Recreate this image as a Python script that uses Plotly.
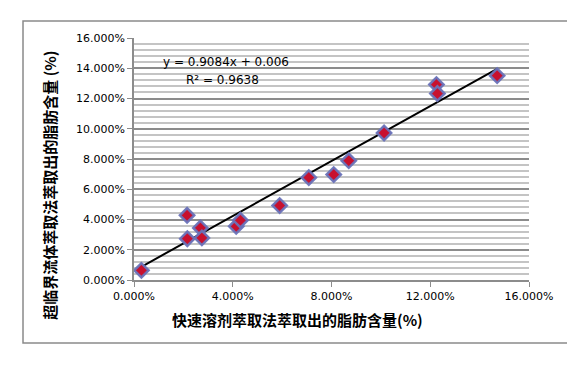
import plotly.graph_objects as go

# Data (fractions)
x_vals = [0.0030, 0.0215, 0.0216, 0.0269, 0.0275, 0.0414, 0.0431, 0.0590,
          0.0708, 0.0809, 0.0870, 0.1013, 0.1225, 0.1229, 0.1471]
y_vals = [0.0064, 0.0428, 0.0273, 0.0344, 0.0278, 0.0355, 0.0395, 0.0492,
          0.0677, 0.0697, 0.0789, 0.0972, 0.1292, 0.1233, 0.1351]
slope = 0.9084
intercept = 0.006
x_ticks = [0.0, 0.04, 0.08, 0.12, 0.16]
y_ticks = [0.0, 0.02, 0.04, 0.06, 0.08, 0.10, 0.12, 0.14, 0.16]
x_title = "快速溶剂萃取法萃取出的脂肪含量(%)"
y_title = "超临界流体萃取法萃取出的脂肪含量 (%)"

x_line = [min(x_vals), max(x_vals)]
y_line = [slope * v + intercept for v in x_line]

font_fam = "DejaVu Sans, Verdana, sans-serif"
cjk = "Noto Sans CJK SC, sans-serif"

fig = go.Figure()
fig.add_trace(go.Scatter(
    x=x_line, y=y_line, mode="lines",
    line=dict(color="black", width=2), hoverinfo="skip", showlegend=False))
fig.add_trace(go.Scatter(
    x=x_vals, y=y_vals, mode="markers",
    marker=dict(symbol="diamond", size=11, color="#c8102e",
                line=dict(color="rgba(105,115,185,0.95)", width=2.5)),
    showlegend=False))

fig.add_annotation(x=0.0371, y=0.1444, xref="x", yref="y",
                   text="y = 0.9084x + 0.006", showarrow=False,
                   font=dict(family=font_fam, size=12, color="black"))
fig.add_annotation(x=0.0357, y=0.1322, xref="x", yref="y",
                   text="R² = 0.9638", showarrow=False,
                   font=dict(family=font_fam, size=12, color="black"))

# axis titles
fig.add_annotation(x=-0.213, y=0.393, xref="paper", yref="paper",
                   xanchor="center", yanchor="middle",
                   text="<b>" + y_title + "</b>", textangle=-90, showarrow=False,
                   font=dict(family=cjk, size=15, color="black"))
fig.add_annotation(x=0.413, y=-0.165, xref="paper", yref="paper",
                   xanchor="center", yanchor="middle",
                   text="<b>" + x_title + "</b>", showarrow=False,
                   font=dict(family=cjk, size=15, color="black"))

# outer chart border
fig.add_shape(type="rect", xref="paper", yref="paper",
              x0=-0.281, x1=1.114, y0=-0.260, y1=1.070,
              line=dict(color="#8a8a8a", width=1.5), layer="below")

fig.update_layout(
    width=575, height=371,
    margin=dict(l=126, r=54, t=30, b=99),
    paper_bgcolor="white", plot_bgcolor="white",
    font=dict(family=font_fam, size=11, color="black"),
    xaxis=dict(
        range=[0, 0.16], tickvals=x_ticks, tickformat=".3%",
        showgrid=False, zeroline=False,
        showline=True, linecolor="#8c8c8c", linewidth=1.5,
        ticks="outside", ticklen=5, tickcolor="#8c8c8c",
        tickfont=dict(family=font_fam, size=11),
    ),
    yaxis=dict(
        range=[0, 0.16], tickvals=y_ticks, tickformat=".3%",
        showgrid=True, gridcolor="#8c8c8c", gridwidth=1.5,
        minor=dict(dtick=0.004, showgrid=True, gridcolor="#c4c4c4", gridwidth=1.5),
        zeroline=False,
        showline=True, linecolor="#8c8c8c", linewidth=1.5,
        ticks="outside", ticklen=5, tickcolor="#8c8c8c",
        tickfont=dict(family=font_fam, size=11),
    ),
)

fig.write_html("out.html")
